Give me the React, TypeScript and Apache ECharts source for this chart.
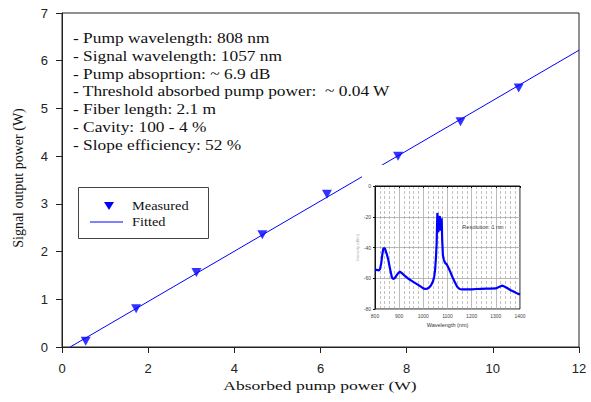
import React, { useEffect, useRef } from "react";
import * as echarts from "echarts";

const pumpPower = [0.55, 1.72, 3.12, 4.65, 6.15, 7.8, 9.25, 10.6];
const signalPower = [0.12, 0.8, 1.56, 2.35, 3.2, 4.0, 4.72, 5.43];
const fitPump = [0.19, 12];
const fitSignal = [0, 6.22];

const wavelength = [800, 807, 815, 821, 826, 830, 834, 838, 842, 846, 850, 855, 860, 865, 870, 876, 883, 890, 897, 903, 910, 924, 940, 955, 970, 985, 1000, 1008, 1016, 1024, 1032, 1040, 1045, 1049, 1052, 1055, 1058, 1060, 1062, 1064, 1066, 1068, 1070, 1072, 1074, 1076, 1078, 1081, 1085, 1090, 1097, 1105, 1112, 1120, 1130, 1140, 1150, 1160, 1180, 1200, 1220, 1240, 1260, 1280, 1300, 1315, 1325, 1333, 1345, 1360, 1375, 1390, 1400];
const intensity = [-55, -54.5, -55, -54, -50, -45, -41, -40.2, -41, -43, -45, -48, -52, -56, -59.5, -60.5, -59.8, -58, -56.5, -55.7, -56.5, -58.5, -60.5, -62, -63.5, -65, -66.6, -67, -66.8, -66, -64.5, -62, -59, -54, -47, -38, -17.5, -22, -30, -26, -21, -19.5, -24, -29, -22, -21, -35, -45, -48, -50, -51, -53.5, -56, -59, -62.5, -65.5, -67, -67.3, -67.2, -67.2, -67, -66.9, -66.8, -66.8, -66.6, -65.5, -64.8, -65.2, -66.2, -67.6, -68.8, -70, -70.5];

const infoLines = [
  "- Pump wavelength: 808 nm",
  "- Signal wavelength: 1057 nm",
  "- Pump absoprtion: ~ 6.9 dB",
  "- Threshold absorbed pump power:  ~ 0.04 W",
  "- Fiber length: 2.1 m",
  "- Cavity: 100 - 4 %",
  "- Slope efficiency: 52 %",
];

const xTitle = "Absorbed pump power (W)";
const yTitle = "Signal output power (W)";
const legendNames = ["Measured", "Fitted"];
const insetX = "Wavelength (nm)";
const insetY = "Intensity (dBm)";
const insetNote = "Resolution: 1 nm";

const SERIF = '"Liberation Serif", "Times New Roman", serif';
const SANS = '"Liberation Sans", Arial, sans-serif';
const BLUE = "#0000ff";

export default function App() {
  const ref = useRef<HTMLDivElement>(null);
  useEffect(() => {
    if (!ref.current) return;
    const chart = echarts.init(ref.current, undefined, { renderer: "svg" });
    const option: any = {
      animation: false,
      backgroundColor: "#fff",
      grid: [
        { left: 62, right: 12, top: 13, bottom: 55, show: true, borderColor: "#222", borderWidth: 1, backgroundColor: "transparent" },
        { left: 375, top: 186, width: 145, height: 123, show: true, borderColor: "#111", borderWidth: 1, backgroundColor: "#fff", z: 4 },
      ],
      xAxis: [
        {
          gridIndex: 0, type: "value", min: 0, max: 12, interval: 2,
          axisLine: { lineStyle: { color: "#222", width: 1 } },
          axisTick: { length: 6, lineStyle: { color: "#222" } },
          axisLabel: { margin: 15, fontSize: 13, color: "#222", fontFamily: SANS },
          splitLine: { show: false },
        },
        {
          gridIndex: 1, type: "value", min: 800, max: 1400, interval: 100, z: 4,
          name: insetX, nameLocation: "middle", nameGap: 13,
          nameTextStyle: { fontSize: 5.5, color: "#333", fontFamily: SANS },
          axisLine: { lineStyle: { color: "#111", width: 1 } },
          axisTick: { length: 2, lineStyle: { color: "#111" } },
          axisLabel: { margin: 4, fontSize: 5, color: "#444", fontFamily: SANS, formatter: (v: number) => String(v) },
          splitLine: { show: true, lineStyle: { color: "#aaa", width: 0.8 } },
          minorTick: { show: false, splitNumber: 5 },
          minorSplitLine: { show: true, lineStyle: { color: "#999", width: 0.6, type: [3, 2] } },
        },
      ],
      yAxis: [
        {
          gridIndex: 0, type: "value", min: 0, max: 7, interval: 1,
          axisLine: { show: true, lineStyle: { color: "#222", width: 1 } },
          axisTick: { show: true, length: 6, lineStyle: { color: "#222" } },
          axisLabel: { margin: 14, fontSize: 13, color: "#222", fontFamily: SANS },
          splitLine: { show: false },
        },
        {
          gridIndex: 1, type: "value", min: -80, max: 0, interval: 20, z: 4,
          name: insetY, nameLocation: "middle", nameGap: 12, nameRotate: 90,
          nameTextStyle: { fontSize: 4, color: "#aaa", fontFamily: SANS },
          axisLine: { show: true, lineStyle: { color: "#111", width: 1 } },
          axisTick: { show: true, length: 2, lineStyle: { color: "#111" } },
          axisLabel: { margin: 4, fontSize: 5, color: "#444", fontFamily: SANS },
          splitLine: { show: true, lineStyle: { color: "#aaa", width: 0.8 } },
        },
      ],
      series: [
        {
          name: legendNames[1], type: "line", xAxisIndex: 0, yAxisIndex: 0, z: 2,
          data: fitPump.map((x, i) => [x, fitSignal[i]]),
          showSymbol: false, symbol: "none",
          lineStyle: { color: BLUE, width: 1 },
        },
        {
          name: legendNames[0], type: "scatter", xAxisIndex: 0, yAxisIndex: 0, z: 2,
          data: pumpPower.map((x, i) => [x, signalPower[i]]),
          symbol: "triangle", symbolRotate: 180, symbolSize: [10, 9],
          itemStyle: { color: BLUE },
        },
        {
          name: "Spectrum", type: "line", xAxisIndex: 1, yAxisIndex: 1, z: 5,
          data: wavelength.map((w, i) => [w, intensity[i]]),
          showSymbol: false, symbol: "none",
          lineStyle: { color: BLUE, width: 2.2 },
        },
      ],
      graphic: [
        { type: "rect", z: 3, shape: { x: 362, y: 165, width: 168, height: 175 }, style: { fill: "#fff" } },
        {
          type: "text", x: 73, y: 29, scaleX: 1.12, z: 6,
          style: { text: infoLines.join("\n"), fontSize: 15.5, fontFamily: SERIF, fill: "#111", lineHeight: 17.8, textVerticalAlign: "top" },
        },
        { type: "rect", z: 6, shape: { x: 78.5, y: 187.5, width: 130, height: 51 }, style: { fill: "#fff", stroke: "#444", lineWidth: 1 } },
        { type: "polygon", z: 7, shape: { points: [[104, 202], [114, 202], [109, 210]] }, style: { fill: BLUE } },
        { type: "line", z: 7, shape: { x1: 90, y1: 222, x2: 123, y2: 222 }, style: { stroke: BLUE, lineWidth: 1 } },
        { type: "text", z: 7, x: 132, y: 206, scaleX: 1.25, style: { text: legendNames[0], fontSize: 11.5, fontFamily: SERIF, fill: "#111", textVerticalAlign: "middle" } },
        { type: "text", z: 7, x: 132, y: 222, scaleX: 1.25, style: { text: legendNames[1], fontSize: 11.5, fontFamily: SERIF, fill: "#111", textVerticalAlign: "middle" } },
        { type: "text", z: 7, x: 320, y: 385, scaleX: 1.3, style: { text: xTitle, fontSize: 13.5, fontFamily: SERIF, fill: "#111", textAlign: "center", textVerticalAlign: "middle" } },
        { type: "text", z: 7, x: 18, y: 178, rotation: Math.PI / 2, style: { text: yTitle, fontSize: 14, fontFamily: SERIF, fill: "#111", textAlign: "center", textVerticalAlign: "middle" } },
        { type: "text", z: 7, x: 483, y: 227, style: { text: insetNote, fontSize: 5.5, fontFamily: SANS, fill: "#444", textAlign: "center", textVerticalAlign: "middle" } },
      ],
    };
    chart.setOption(option);
    return () => chart.dispose();
  }, []);
  return <div ref={ref} style={{ position: "absolute", left: 0, top: 0, width: 591, height: 402 }} />;
}
